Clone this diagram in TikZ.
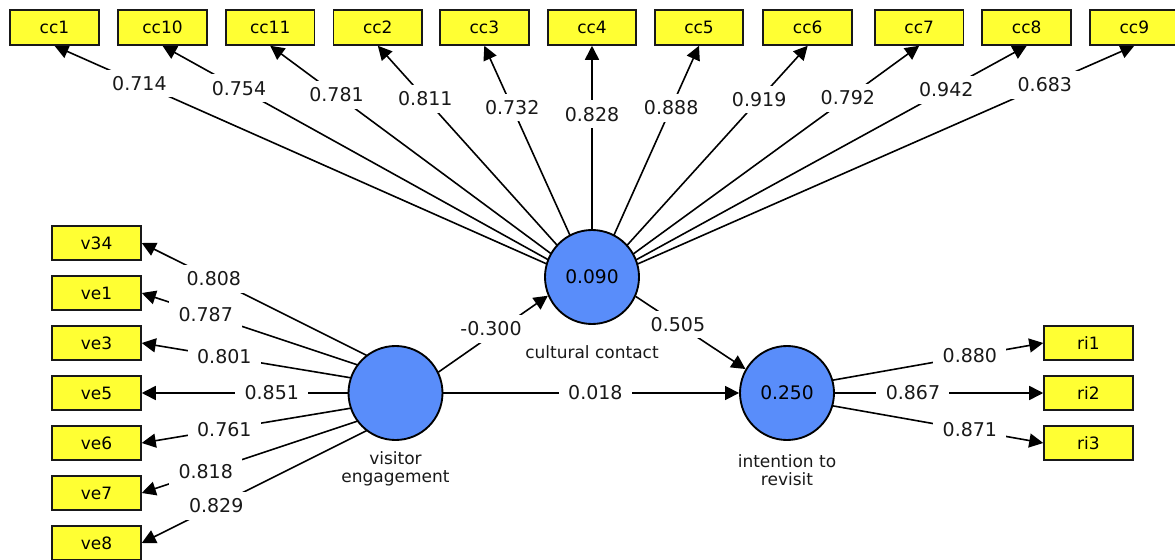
\documentclass[tikz,border=0pt]{standalone}
\usepackage{fontspec}
\setmainfont{DejaVu Sans}
\usetikzlibrary{arrows.meta}
\pgfdeclarelayer{bg}
\pgfsetlayers{bg,main}
\definecolor{lvblue}{RGB}{89,141,250}
\definecolor{mvyellow}{RGB}{255,255,51}
\begin{document}
\begin{tikzpicture}[x=0.75pt,y=-0.75pt,
  mv/.style={draw=black!90, fill=mvyellow, line width=1.4pt, minimum width=66.5pt, minimum height=26pt, inner sep=0pt, font=\fontsize{12.75pt}{15pt}\selectfont},
  lv/.style={circle, draw=black, fill=lvblue, line width=1.4pt, minimum size=70.5pt, inner sep=0pt, font=\fontsize{14pt}{16pt}\selectfont},
  lvcaption/.style={align=center, font=\fontsize{12.75pt}{13.5pt}\selectfont, inner sep=0pt, text=black!90},
  lnk/.style={line width=1.2pt, draw=black, -{Triangle[length=10.5pt,width=10.5pt]}},
  wt/.style={fill=white, inner xsep=7pt, inner ysep=5pt, font=\fontsize{14.25pt}{16pt}\selectfont, text=black!90}]
\useasboundingbox (0,0) rectangle (1175,560);
% latent variables
\node[lv] (cc) at (592,277) {0.090};
\node[lv] (ve) at (395.5,393) {};
\node[lv] (ir) at (787,393) {0.250};
\node[lvcaption] (cccap) at (592,352) {cultural contact};
\node[lvcaption] (vecap) at (395.5,469) {visitor\\engagement};
\node[lvcaption] (ircap) at (787,470.5) {intention to\\revisit};
% indicators
\foreach \n/\x in {cc1/54.5, cc10/162.5, cc11/270.2, cc2/377.8, cc3/484.3, cc4/592, cc5/699, cc6/807.7, cc7/919.2, cc8/1026.7, cc9/1134.3}
  \node[mv] (\n) at (\x,27.5) {\n};
\foreach \n/\y in {v34/243, ve1/293, ve3/343, ve5/393, ve6/443, ve7/493, ve8/543}
  \node[mv] (\n) at (96.5,\y) {\n};
\foreach \n/\y in {ri1/343, ri2/393, ri3/443}
  \node[mv] (\n) at (1088.5,\y) {\n};
% convergence points of loading lines
\coordinate (ccP) at (592,284);
\coordinate (veP) at (442,393);
\coordinate (irP) at (760,393);
\begin{pgfonlayer}{bg}
\fill[white] (0,0) rectangle (1175,560);
\foreach \n/\t/\v in {cc1/0.842/0.714, cc10/0.822/0.754, cc11/0.794/0.781, cc2/0.778/0.811, cc3/0.741/0.732, cc4/0.713/0.828, cc5/0.740/0.888, cc6/0.775/0.919, cc7/0.782/0.792, cc8/0.815/0.942, cc9/0.835/0.683}
  \draw[lnk] (ccP) -- node[wt,pos=\t] {\v} (\n.south);
\foreach \n/\t/\v in {v34/0.76/0.808, ve1/0.787/0.787, ve3/0.725/0.801, ve5/0.567/0.851, ve6/0.725/0.761, ve7/0.787/0.818, ve8/0.752/0.829}
  \draw[lnk] (veP) -- node[wt,pos=\t] {\v} (\n.east);
\foreach \n/\t/\v in {ri1/0.741/0.880, ri2/0.54/0.867, ri3/0.741/0.871}
  \draw[lnk] (irP) -- node[wt,pos=\t] {\v} (\n.west);
\end{pgfonlayer}
% structural paths
\draw[lnk] (ve.26) -- node[wt,pos=0.48,yshift=5pt] {-0.300} (cc.203);
\draw[lnk] (cc.-24) -- node[wt,pos=0.384] {0.505} (ir.150);
\draw[lnk] (ve.east) -- node[wt,pos=0.514] {0.018} (ir.west);
\end{tikzpicture}
\end{document}
